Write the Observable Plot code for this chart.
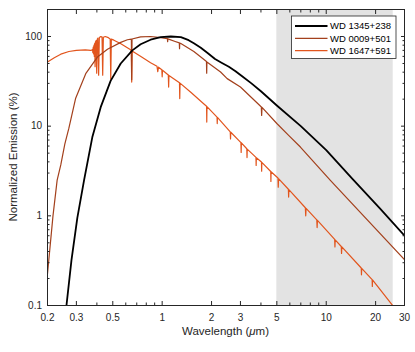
<!DOCTYPE html>
<html><head><meta charset="utf-8">
<script src="https://cdn.jsdelivr.net/npm/d3@7"></script>
<script src="https://cdn.jsdelivr.net/npm/@observablehq/plot@0.6"></script>
<style>
html,body{margin:0;padding:0;background:#fff;}
#chart{position:relative;width:415px;height:352px;}
</style></head><body><div id="chart"></div>
<script>
// ---- data ----
const seriesNames = ["WD 1345+238", "WD 0009+501", "WD 1647+591"];
const seriesColors = ["#000000", "#A3401C", "#E2551D"];

const wd1345Wavelength = [0.261, 0.28, 0.304, 0.334, 0.375, 0.422, 0.485, 0.559, 0.658, 0.739, 0.85, 0.98, 1.13, 1.30, 1.45, 1.56, 1.72, 1.9, 2.1, 2.3, 2.55, 2.8, 3.1, 3.5, 4.0, 5.0, 7.0, 10, 14.4, 21.3, 30];
const wd1345Emission   = [0.1, 0.32, 0.95, 2.48, 7.5, 16.3, 32, 50, 70, 82, 92, 98.5, 100, 98.6, 91, 84, 75, 65, 56, 51, 46, 41, 35.5, 30, 24.5, 17, 10, 5.4, 2.6, 1.2, 0.6];

const wd0009Wavelength = [0.2, 0.216, 0.229, 0.241, 0.255, 0.27, 0.297, 0.342, 0.403, 0.464, 0.559, 0.614, 0.649, 0.652, 0.655, 0.739, 0.85, 0.98, 1.076, 1.08, 1.084, 1.2, 1.272, 1.276, 1.28, 1.30, 1.56, 1.72, 1.862, 1.868, 1.874, 2.27, 2.49, 3.0, 3.98, 4.02, 4.04, 4.06, 5.0, 5.9, 6.96, 10.6, 30];
const wd0009Emission   = [0.226, 1.0, 2.5, 3.7, 6.3, 9.5, 20.5, 38.5, 59, 72, 86, 92, 93.5, 33, 93.8, 99, 100, 97.3, 94.5, 87.5, 94.2, 88, 84.8, 73, 84.3, 83.4, 68, 59, 52.5, 39, 52, 40.2, 33.9, 27.3, 16.7, 16.4, 13.2, 16.2, 10.7, 7.9, 5.85, 2.48, 0.324];

const wd1647Wavelength = [0.2, 0.22, 0.241, 0.27, 0.30, 0.34, 0.367, 0.372, 0.376, 0.378, 0.380, 0.382, 0.384, 0.386, 0.388, 0.390, 0.392, 0.396, 0.399, 0.402, 0.406, 0.410, 0.414, 0.42, 0.43, 0.434, 0.438, 0.45, 0.47, 0.482, 0.486, 0.49, 0.508, 0.56, 0.642, 0.648, 0.652, 0.656, 0.75, 0.85, 0.93, 0.94, 0.95, 0.995, 1.0, 1.005, 1.09, 1.095, 1.10, 1.275, 1.28, 1.285, 1.5, 1.79, 1.865, 1.87, 1.875, 2.16, 2.166, 2.172, 2.60, 2.61, 2.62, 3.02, 3.03, 3.04, 3.28, 3.29, 3.30, 3.73, 3.74, 3.75, 4.03, 4.04, 4.05, 4.59, 4.60, 4.61, 5.08, 5.1, 5.12, 5.88, 5.9, 5.92, 7.46, 7.5, 7.54, 8.76, 8.8, 8.84, 11.26, 11.3, 11.34, 12.35, 12.4, 12.45, 16.35, 16.4, 16.45, 19.05, 19.1, 19.15, 25.4];
const wd1647Emission   = [52, 58, 63.5, 68, 70, 71, 70, 70.5, 72, 66, 76, 64, 80, 60, 84, 46, 87, 90, 39, 93, 96, 37, 97, 99.5, 99, 37, 98, 100, 97, 94, 33.5, 93.5, 91, 83, 71, 69.5, 31, 69, 59, 51, 46.5, 40.5, 45.5, 42.5, 35.5, 42, 37.2, 27.3, 36.8, 30.5, 20.3, 30.2, 23.7, 17.8, 16.7, 11.1, 16.5, 12.6, 10.7, 12.5, 8.65, 7.2, 8.55, 6.55, 5.1, 6.5, 5.6, 4.46, 5.55, 4.48, 3.64, 4.45, 3.98, 3.15, 3.95, 3.12, 2.42, 3.1, 2.64, 2.09, 2.6, 1.98, 1.62, 1.96, 1.23, 1.0, 1.21, 0.9, 0.74, 0.89, 0.545, 0.45, 0.54, 0.455, 0.38, 0.45, 0.262, 0.22, 0.26, 0.194, 0.163, 0.193, 0.1];

const shadedBand = [5, 25.6];
const xMajorTicks = [0.2, 0.3, 0.5, 1, 2, 3, 5, 10, 20, 30];
const xMinorTicks = [0.4, 0.6, 0.7, 0.8, 0.9, 4, 6, 7, 8, 9];
const yMajorTicks = [0.1, 1, 10, 100];
const yMinorTicks = [0.2, 0.3, 0.4, 0.5, 0.6, 0.7, 0.8, 0.9, 2, 3, 4, 5, 6, 7, 8, 9, 20, 30, 40, 50, 60, 70, 80, 90];
const xLabelText = "Wavelength (";
const xLabelUnit = "μ";
const xLabelEnd = "m)";
const yLabelText = "Normalized Emission (%)";

// ---- build tables ----
const toRows = (wl, em) => wl.map((w, i) => ({wl: w, em: em[i]}));
const rows1345 = toRows(wd1345Wavelength, wd1345Emission);
const rows0009 = toRows(wd0009Wavelength, wd0009Emission);
const rows1647 = toRows(wd1647Wavelength, wd1647Emission);

const font = "'Liberation Sans', Arial, Helvetica, sans-serif";
const axisColor = "#262626";

const tickAxis = (fn, ticks, anchor, size) => fn(ticks, {
  anchor, tickSize: size, fill: "none", label: null, stroke: axisColor,
  ...(anchor === "bottom" ? {dy: -size} : anchor === "top" ? {dy: size} : anchor === "left" ? {dx: size} : {dx: -size})
});

const plot = Plot.plot({
  width: 415, height: 352,
  marginLeft: 47, marginRight: 11, marginTop: 9, marginBottom: 47,
  style: {fontFamily: font, fontSize: "10px", color: axisColor, background: "#fff", overflow: "visible"},
  x: {type: "log", domain: [0.2, 30]},
  y: {type: "log", domain: [0.1, 200]},
  marks: [
    Plot.rect([shadedBand], {x1: d => d[0], x2: d => d[1], fill: "#E3E3E3"}),
    Plot.line(rows1647, {x: "wl", y: "em", stroke: seriesColors[2], strokeWidth: 1.2, clip: true}),
    Plot.line(rows0009, {x: "wl", y: "em", stroke: seriesColors[1], strokeWidth: 1.2, clip: true}),
    Plot.line(rows1345, {x: "wl", y: "em", stroke: seriesColors[0], strokeWidth: 1.8, clip: true}),
    tickAxis(Plot.axisX, xMajorTicks, "bottom", 4),
    tickAxis(Plot.axisX, xMinorTicks, "bottom", 2.5),
    tickAxis(Plot.axisX, xMajorTicks, "top", 4),
    tickAxis(Plot.axisX, xMinorTicks, "top", 2.5),
    tickAxis(Plot.axisY, yMajorTicks, "left", 4),
    tickAxis(Plot.axisY, yMinorTicks, "left", 2.5),
    tickAxis(Plot.axisY, yMajorTicks, "right", 4),
    tickAxis(Plot.axisY, yMinorTicks, "right", 2.5),
    Plot.text(xMajorTicks, {x: d => d, text: d => String(d), frameAnchor: "bottom", dy: 12.5, lineAnchor: "middle", textAnchor: "middle", fill: axisColor, fontSize: 10}),
    Plot.text(yMajorTicks, {y: d => d, text: d => String(d), frameAnchor: "left", dx: -5.5, lineAnchor: "middle", textAnchor: "end", fill: axisColor, fontSize: 10}),
    Plot.frame({stroke: axisColor, strokeWidth: 1})
  ]
});

document.getElementById("chart").appendChild(plot);

const svg = d3.select(plot);
// axis labels
const xl = svg.append("text").attr("x", 225.5).attr("y", 335).attr("text-anchor", "middle")
  .attr("font-family", font).attr("font-size", 11.5).attr("fill", axisColor);
xl.append("tspan").text(xLabelText);
xl.append("tspan").attr("font-style", "italic").text(xLabelUnit);
xl.append("tspan").text(xLabelEnd);
svg.append("text").attr("transform", "translate(16.5,157) rotate(-90)").attr("text-anchor", "middle")
  .attr("font-family", font).attr("font-size", 11.5).attr("fill", axisColor).text(yLabelText);

// legend
const lg = svg.append("g");
lg.append("rect").attr("x", 291.5).attr("y", 16).attr("width", 104.5).attr("height", 42.5)
  .attr("fill", "#fff").attr("stroke", axisColor).attr("stroke-width", 0.8);
const widths = [1.8, 1.2, 1.2];
seriesNames.forEach((name, i) => {
  const y = 26 + i * 12.3;
  lg.append("line").attr("x1", 295).attr("x2", 327.5).attr("y1", y).attr("y2", y)
    .attr("stroke", seriesColors[i]).attr("stroke-width", widths[i]);
  lg.append("text").attr("x", 330).attr("y", y).attr("dy", "0.35em").attr("text-anchor", "start")
    .attr("font-family", font).attr("font-size", 9.5).attr("fill", "#000").text(name);
});
</script>
</body></html>
